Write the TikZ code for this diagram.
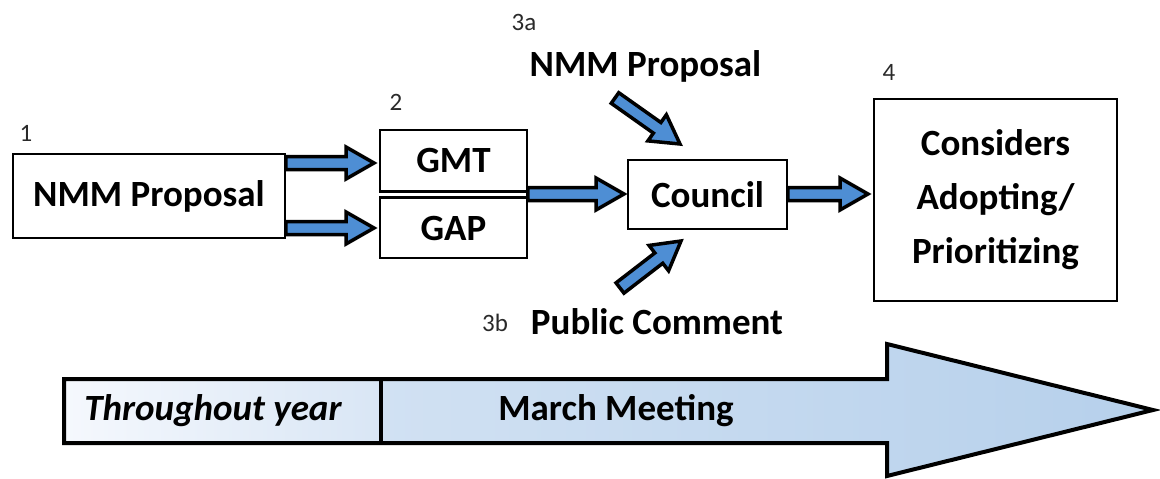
\documentclass[tikz,border=0pt]{standalone}
\usepackage{fontspec}
\setmainfont{Carlito}
\usetikzlibrary{calc}
\definecolor{arrowblue}{HTML}{4E8ED4}
\definecolor{numgray}{HTML}{2A2A2A}
\definecolor{barL}{HTML}{DCE8F6}
\definecolor{barM}{HTML}{C0D6EE}
\definecolor{barR}{HTML}{B6D0EB}
\definecolor{thrL}{HTML}{F5F8FD}
\definecolor{thrR}{HTML}{D9E6F5}
\tikzset{
  box/.style={draw=black, line width=1.5pt, fill=white, inner sep=0pt, align=center,
    font=\bfseries\fontsize{37}{54}\selectfont},
  numlabel/.style={inner sep=0pt, text=numgray, font=\fontsize{25}{28}\selectfont},
  plainlabel/.style={inner sep=0pt, font=\bfseries\fontsize{37}{43}\selectfont},
  blockarrowstyle/.style={draw=black, fill=arrowblue, line width=3.5pt, line join=miter},
}
% block arrow between two named points: shaft half-width 6.5, head half-width 16, head length 28
\newcommand\blockarr[2]{%
  \draw[blockarrowstyle] let \p1=(#1), \p2=(#2),
    \n1={atan2(\y2-\y1,\x2-\x1)}, \n2={veclen(\x2-\x1,\y2-\y1)}, \n3={\n2-28pt} in
    ($(\p1)+(\n1+90:6.5pt)$) --
    ($(\p1)+(\n1:\n3)+(\n1+90:6.5pt)$) --
    ($(\p1)+(\n1:\n3)+(\n1+90:16pt)$) --
    (\p2) --
    ($(\p1)+(\n1:\n3)+(\n1-90:16pt)$) --
    ($(\p1)+(\n1:\n3)+(\n1-90:6.5pt)$) --
    ($(\p1)+(\n1-90:6.5pt)$) -- cycle;}
\begin{document}
\begin{tikzpicture}[x=1pt, y=-1pt]
\useasboundingbox (0,0) rectangle (1160,479);

% nodes
\node[box, minimum width=272pt, minimum height=84pt] (box1) at (149,196) {NMM Proposal};
\node[numlabel] (n1) at (26,133) {1};
\node[box, minimum width=147pt, minimum height=61pt] (gmt) at (453.5,160.5) {GMT};
\node[box, minimum width=147pt, minimum height=60pt] (gap) at (453.5,228) {GAP};
\draw[line width=2.4pt] (gmt.south west) -- (gmt.south east);
\draw[line width=2.4pt] (gap.north west) -- (gap.north east);
\node[numlabel] (n2) at (396,102) {2};
\node[box, minimum width=159pt, minimum height=69pt] (council) at (707.5,194.5) {Council};
\node[numlabel] (n3a) at (524,22) {3a};
\node[plainlabel] (prop3a) at (645.5,66) {NMM Proposal};
\node[numlabel] (n3b) at (495,323) {3b};
\node[plainlabel] (pub3b) at (657,322) {Public Comment};
\node[box, line width=2pt, minimum width=243pt, minimum height=202pt] (box4) at (995.5,200)
  {Considers\\Adopting/\\Prioritizing};
\node[numlabel] (n4) at (889,72) {4};

% connector end points
\coordinate (a1s) at (box1.east |- 0,163);
\coordinate (a1e) at (374,163);
\coordinate (a2s) at (box1.east |- 0,228);
\coordinate (a2e) at (374,228);
\coordinate (a3s) at (gmt.east |- 0,194);
\coordinate (a3e) at (624,194);
\coordinate (a4s) at (council.east |- 0,194);
\coordinate (a4e) at (868,194);
\coordinate (a5s) at (615,98);
\coordinate (a5e) at (680,144);
\coordinate (a6s) at (620,288);
\coordinate (a6e) at (681,241);

\blockarr{a1s}{a1e}
\blockarr{a2s}{a2e}
\blockarr{a3s}{a3e}
\blockarr{a4s}{a4e}
\blockarr{a5s}{a5e}
\blockarr{a6s}{a6e}

% timeline arrow
\shade[left color=barL, middle color=barM, right color=barR]
  (64,379) -- (887,379) -- (887,344) -- (1153,410) -- (887,476) -- (887,443) -- (64,443) -- cycle;
\shade[left color=thrL, right color=thrR] (64,379) rectangle (381,443);
\draw[line width=4pt, line join=miter]
  (64,379) -- (887,379) -- (887,344) -- (1153,410) -- (887,476) -- (887,443) -- (64,443) -- cycle;
\draw[line width=4pt] (381,379) -- (381,443);
\node[plainlabel, font=\bfseries\itshape\fontsize{37}{43}\selectfont] (thr) at (213,411) {Throughout year};
\node[plainlabel] (march) at (616,411) {March Meeting};
\end{tikzpicture}
\end{document}
